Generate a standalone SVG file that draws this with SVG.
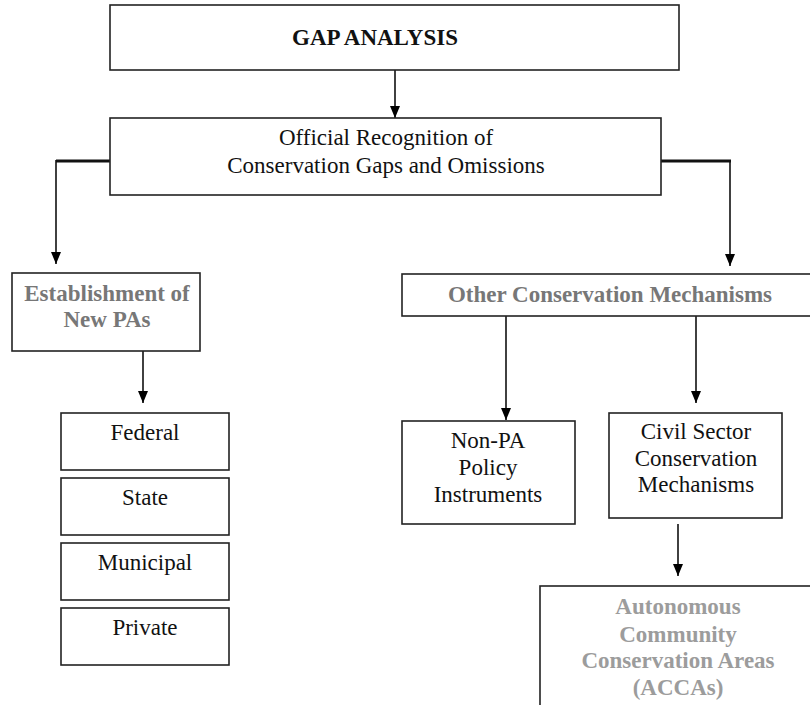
<svg xmlns="http://www.w3.org/2000/svg" width="810" height="705" viewBox="0 0 810 705">
<defs>
<marker id="ah" viewBox="0 0 12 10" refX="12" refY="5" markerWidth="12" markerHeight="10" markerUnits="userSpaceOnUse" orient="auto">
<path d="M0,0 L12,5 L0,10 Z" fill="#000"/>
</marker>
<style>
.box{fill:#fff;stroke:#222;stroke-width:1.6}
.t{font-family:"Liberation Serif","Times New Roman",serif;font-size:23px;fill:#111;text-anchor:middle}
.b{font-weight:bold}
.g{fill:#777}
.lg{fill:#9c9c9c}
.v{stroke:#111;stroke-width:1.6;fill:none}
.h{stroke:#111;stroke-width:3;fill:none}
</style>
</defs>
<rect width="810" height="705" fill="#fff"/>
<g id="connectors">
<line class="v" x1="395" y1="70" x2="395" y2="118" marker-end="url(#ah)"/>
<line class="h" x1="56" y1="161" x2="110" y2="161"/>
<line class="v" x1="56" y1="160" x2="56" y2="264" marker-end="url(#ah)"/>
<line class="h" x1="661" y1="161" x2="731" y2="161"/>
<line class="v" x1="730" y1="160" x2="730" y2="266" marker-end="url(#ah)"/>
<line class="v" x1="143" y1="351" x2="143" y2="403" marker-end="url(#ah)"/>
<line class="v" x1="506" y1="316" x2="506" y2="420" marker-end="url(#ah)"/>
<line class="v" x1="696" y1="316" x2="696" y2="403" marker-end="url(#ah)"/>
<line class="v" x1="678" y1="524" x2="678" y2="576" marker-end="url(#ah)"/>
</g>
<g id="gap">
<rect class="box" x="110" y="5" width="569" height="65"/>
<text class="t b" x="375" y="45">GAP ANALYSIS</text>
</g>
<g id="official">
<rect class="box" x="110" y="118" width="551" height="77"/>
<text class="t" x="386" y="145">Official Recognition of</text>
<text class="t" x="386" y="173">Conservation Gaps and Omissions</text>
</g>
<g id="establishment">
<rect class="box" x="12" y="273" width="188" height="78"/>
<text class="t b g" x="107" y="301">Establishment of</text>
<text class="t b g" x="107" y="327">New PAs</text>
</g>
<g id="other">
<rect class="box" x="402" y="274" width="415" height="42"/>
<text class="t b g" x="610" y="302">Other Conservation Mechanisms</text>
</g>
<g id="federal">
<rect class="box" x="61" y="413" width="168" height="57"/>
<text class="t" x="145" y="440">Federal</text>
</g>
<g id="state">
<rect class="box" x="61" y="478" width="168" height="57"/>
<text class="t" x="145" y="505">State</text>
</g>
<g id="municipal">
<rect class="box" x="61" y="543" width="168" height="57"/>
<text class="t" x="145" y="570">Municipal</text>
</g>
<g id="private">
<rect class="box" x="61" y="608" width="168" height="57"/>
<text class="t" x="145" y="635">Private</text>
</g>
<g id="nonpa">
<rect class="box" x="402" y="421" width="173" height="103"/>
<text class="t" x="488" y="448">Non-PA</text>
<text class="t" x="488" y="475">Policy</text>
<text class="t" x="488" y="502">Instruments</text>
</g>
<g id="civil">
<rect class="box" x="609" y="413" width="173" height="105"/>
<text class="t" x="696" y="439">Civil Sector</text>
<text class="t" x="696" y="466">Conservation</text>
<text class="t" x="696" y="492">Mechanisms</text>
</g>
<g id="accas">
<rect class="box" x="540" y="586" width="280" height="130"/>
<text class="t b lg" x="678" y="614">Autonomous</text>
<text class="t b lg" x="678" y="642">Community</text>
<text class="t b lg" x="678" y="668">Conservation Areas</text>
<text class="t b lg" x="678" y="695">(ACCAs)</text>
</g>
</svg>
